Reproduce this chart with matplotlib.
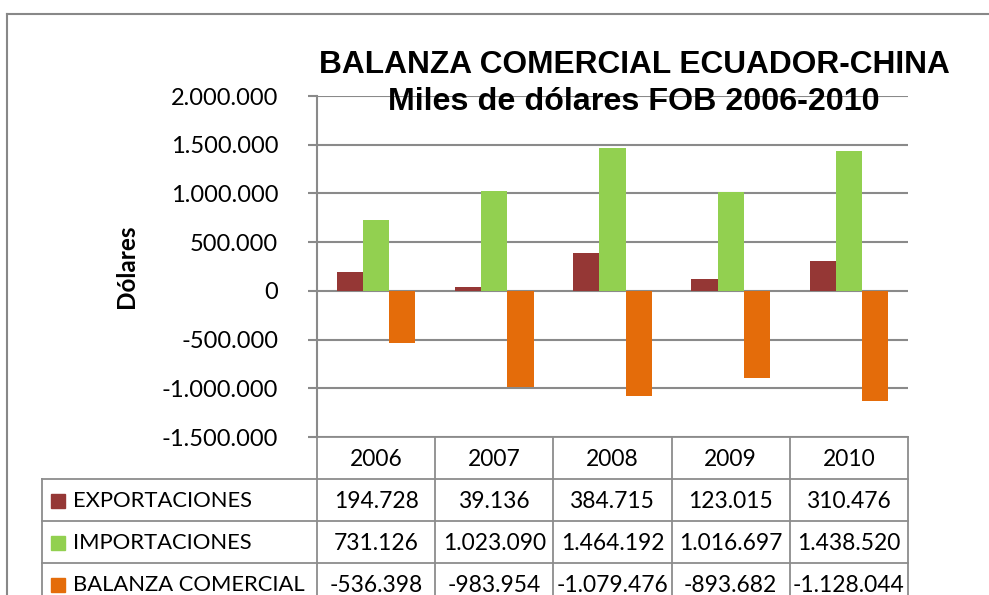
import numpy as np
import matplotlib.pyplot as plt
from matplotlib.lines import Line2D
from matplotlib.patches import Rectangle

# ── DATA ─────────────────────────────────────────────────────────────────────
years = ["2006", "2007", "2008", "2009", "2010"]
exportaciones = [194728, 39136, 384715, 123015, 310476]
importaciones = [731126, 1023090, 1464192, 1016697, 1438520]
balanza = [-536398, -983954, -1079476, -893682, -1128044]
series_names = ["EXPORTACIONES", "IMPORTACIONES", "BALANZA COMERCIAL"]
y_ticks = [-1500000, -1000000, -500000, 0, 500000, 1000000, 1500000, 2000000]

COLORS = ["#953735", "#92D050", "#E46C0A"]
GRID = "#8a8a8a"
W, H = 989, 595
TFONT = 16.4   # table numbers
LFONT = 15.8   # table row labels


def fmt(v):
    s = f"{abs(int(v)):,}".replace(",", ".")
    return ("-" if v < 0 else "") + s


def fx(x):
    return x / W


def fy(y):
    return 1 - y / H


fig = plt.figure(figsize=(W / 100, H / 100), dpi=100)
fig.patch.set_facecolor("white")

# outer chart border
fig.add_artist(Line2D([fx(7), fx(989)], [fy(14), fy(14)], color="#888888", lw=1.5))
fig.add_artist(Line2D([fx(7), fx(7)], [fy(14), fy(595)], color="#888888", lw=1.5))

# ── PLOT AREA ────────────────────────────────────────────────────────────────
L, R, T, B = 317, 908, 96, 437
ax = fig.add_axes([fx(L), fy(B), (R - L) / W, (B - T) / H])
x = np.arange(len(years))
bw = 0.222
for i, (vals, c) in enumerate(zip([exportaciones, importaciones, balanza], COLORS)):
    ax.bar(x + (i - 1) * bw, vals, width=bw, color=c, zorder=3)

ax.set_xlim(-0.5, len(years) - 0.5)
ax.set_ylim(-1500000, 2000000)
ax.set_yticks(y_ticks)
ax.set_yticklabels([fmt(v) for v in y_ticks], family="Lato", fontsize=17)
ax.set_xticks([])
ax.grid(axis="y", color=GRID, lw=1.5, zorder=0)
for s in ["top", "right", "bottom"]:
    ax.spines[s].set_visible(False)
ax.spines["left"].set_color(GRID)
ax.spines["left"].set_linewidth(1.5)
ax.tick_params(axis="y", length=6.5, width=1.5, color=GRID, pad=21.5)
ax.set_ylabel("Dólares", family="Lato", fontweight="bold", fontsize=17.5, labelpad=17)

# title
fig.text(fx(634), fy(73), "BALANZA COMERCIAL ECUADOR-CHINA", ha="center", va="baseline",
         family="Liberation Sans", fontweight="bold", fontsize=22.8)
fig.text(fx(634), fy(110), "Miles de dólares FOB 2006-2010", ha="center", va="baseline",
         family="Liberation Sans", fontweight="bold", fontsize=23.2)

# ── DATA TABLE ───────────────────────────────────────────────────────────────
col_edges = np.linspace(L, R, len(years) + 1)
row_edges = [437, 479, 521, 563, 605]
tcol = "#8c8c8c"
# header row
fig.add_artist(Line2D([fx(L), fx(R)], [fy(row_edges[0])] * 2, color=tcol, lw=1.3))
for y in row_edges[1:4]:
    fig.add_artist(Line2D([fx(42), fx(R)], [fy(y)] * 2, color=tcol, lw=1.3))
for xe in col_edges:
    fig.add_artist(Line2D([fx(xe)] * 2, [fy(437), fy(600)], color=tcol, lw=1.3))
fig.add_artist(Line2D([fx(42)] * 2, [fy(479), fy(600)], color=tcol, lw=1.3))

for j, yr in enumerate(years):
    cx = (col_edges[j] + col_edges[j + 1]) / 2
    fig.text(fx(cx), fy((row_edges[0] + row_edges[1]) / 2 + 1), yr, ha="center", va="center",
             family="Lato", fontsize=TFONT)

for r, (name, vals, c) in enumerate(zip(series_names, [exportaciones, importaciones, balanza], COLORS)):
    cy = (row_edges[r + 1] + row_edges[r + 2]) / 2 + 1
    fig.add_artist(Rectangle((fx(51), fy(cy + 7)), 14 / W, 14 / H, color=c,
                             transform=fig.transFigure))
    fig.text(fx(73), fy(cy), name, ha="left", va="center", family="Lato", fontsize=LFONT)
    for j, v in enumerate(vals):
        cx = (col_edges[j] + col_edges[j + 1]) / 2
        fig.text(fx(cx), fy(cy), fmt(v), ha="center", va="center", family="Lato", fontsize=TFONT)

fig.savefig("out.png", dpi=100)
